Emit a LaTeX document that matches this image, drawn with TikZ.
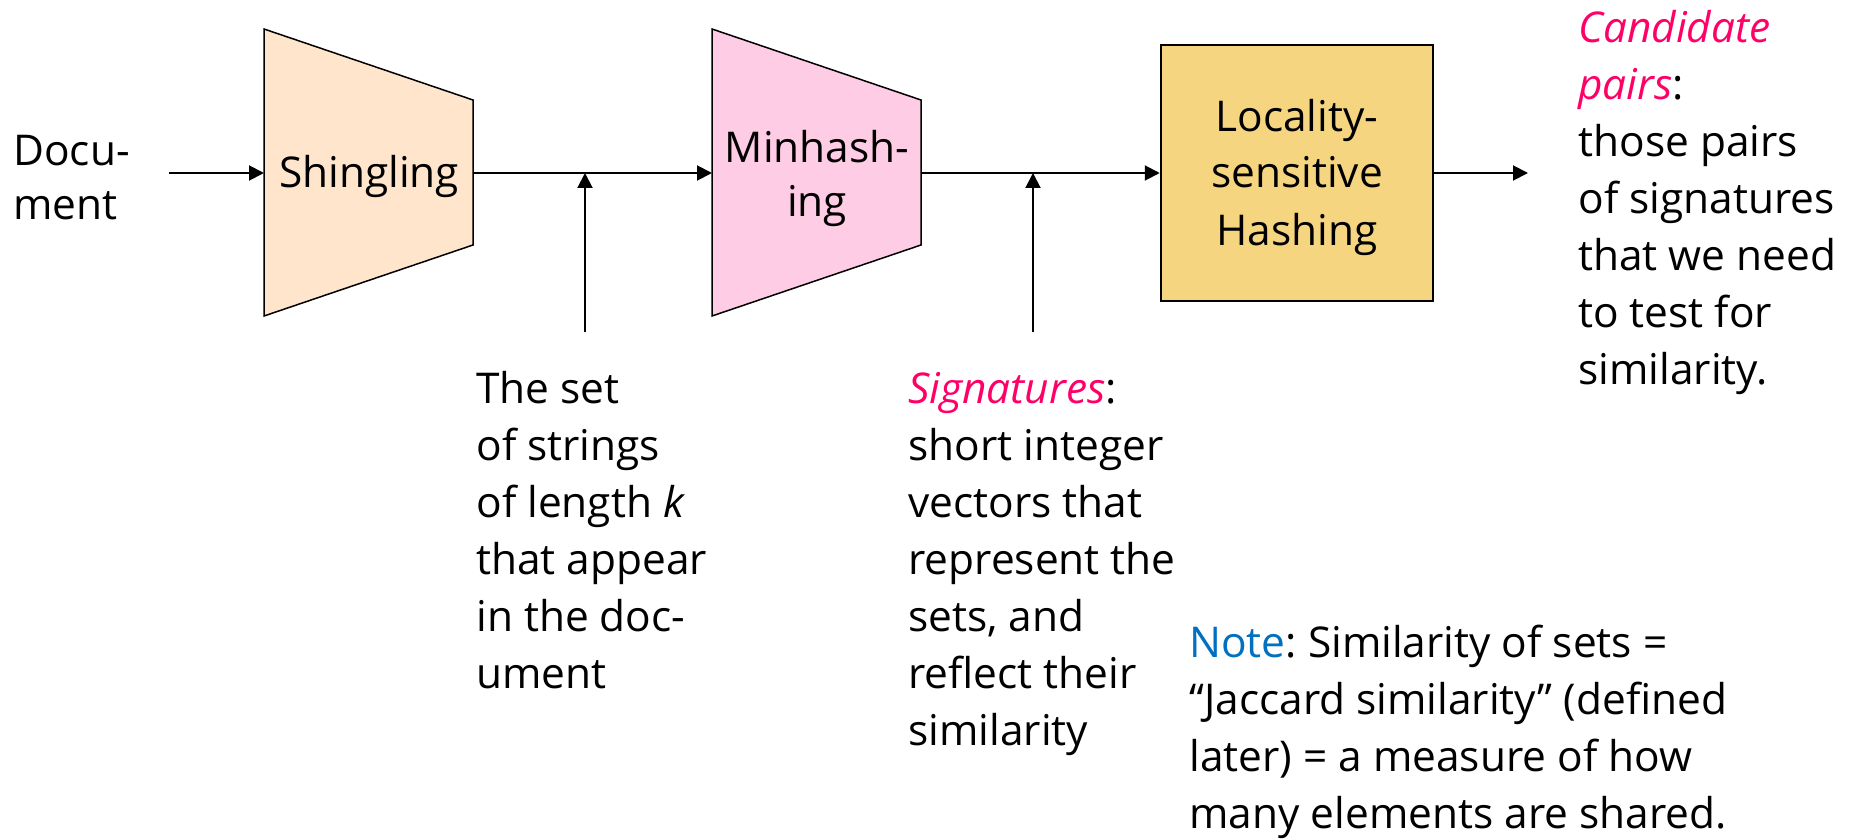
\documentclass[tikz,border=0pt]{standalone}
\usepackage{fontspec}
\setmainfont{Open Sans}
\usetikzlibrary{arrows.meta}
\definecolor{shingfill}{HTML}{FFE5CC}
\definecolor{minfill}{HTML}{FFCCE5}
\definecolor{lshfill}{HTML}{F6D580}
\definecolor{hilite}{HTML}{FF0066}
\definecolor{noteblue}{HTML}{0070C0}
\frenchspacing
\begin{document}
\begin{tikzpicture}[x=0.5pt,y=-0.5pt,
  conn/.style={line width=1pt},
  arr/.style={conn,-{Triangle[length=7.5pt,width=7.5pt]}},
  trap/.style={draw,line width=0.75pt},
  boxlabel/.style={inner sep=0,align=center,anchor=base,font=\fontsize{21.2}{27.5}\selectfont},
  desc/.style={inner sep=0,align=left,anchor=base west,font=\fontsize{21.2}{28.5}\selectfont}]
\useasboundingbox (0,0) rectangle (1849,840);

% Shingling
\draw[trap,fill=shingfill] (264,29) -- (473,100) -- (473,245) -- (264,316) -- cycle;
\node[boxlabel] (shing) at (369,188) {Shingling};
\coordinate (shin) at (264,173);
\coordinate (shout) at (473,173);

% Minhashing
\draw[trap,fill=minfill] (712,29) -- (921,100) -- (921,245) -- (712,316) -- cycle;
\node[boxlabel] (minh) at (817,217) {Minhash-\\ing};
\coordinate (minin) at (712,173);
\coordinate (minout) at (921,173);

% LSH
\node[draw,line width=1.25pt,fill=lshfill,minimum width=136pt,minimum height=128pt,inner sep=0] (lsh) at (1297,173) {};
\node[boxlabel,font=\fontsize{21.2}{28.5}\selectfont] (lshlabel) at (1297,245) {Locality-\\sensitive\\Hashing};

% endpoints
\coordinate (docout) at (169,173);
\coordinate (candin) at (1528,173);
\coordinate (v1b) at (585,332);
\coordinate (v1t) at (585,173);
\coordinate (v2b) at (1033,332);
\coordinate (v2t) at (1033,173);

% connectors
\draw[arr] (docout) -- (shin);
\draw[arr] (shout) -- (minin);
\draw[arr] (minout) -- (lsh.west);
\draw[arr] (lsh.east) -- (candin);
\draw[arr] (v1b) -- (v1t);
\draw[arr] (v2b) -- (v2t);

% texts
\node[desc,font=\fontsize{21.2}{27}\selectfont] (docu) at (13,220) {Docu-\\ment};
\node[desc] (cand) at (1578,384) {\textcolor{hilite}{\textit{Candidate}}\\\textcolor{hilite}{\textit{pairs}}:\\those pairs\\of signatures\\that we need\\to test for\\similarity.};
\node[desc] (kset) at (476,688) {The set\\of strings\\of length \textit{k}\\that appear\\in the doc-\\ument};
\node[desc] (sigs) at (908,745) {\textcolor{hilite}{\textit{Signatures}}:\\short integer\\vectors that\\represent the\\sets, and\\reflect their\\similarity};
\node[desc] (note) at (1189,828) {\textcolor{noteblue}{Note}: Similarity of sets =\\``Jaccard similarity'' (defined\\later) = a measure of how\\many elements are shared.};
\end{tikzpicture}
\end{document}
